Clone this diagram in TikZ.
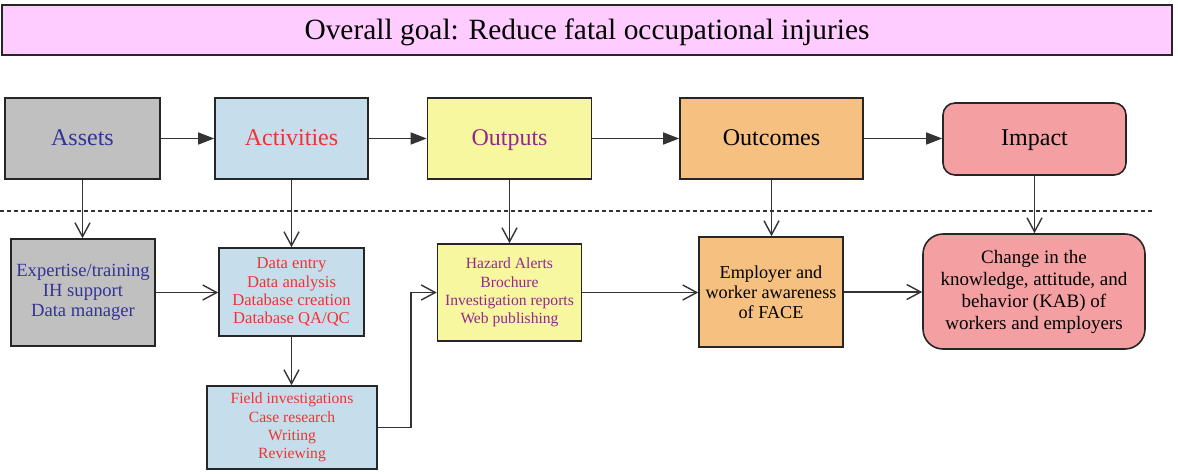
\documentclass[tikz,border=0pt]{standalone}
\usepackage{fontspec}
\setmainfont{Liberation Serif}
\usetikzlibrary{arrows.meta}
\definecolor{goalpink}{RGB}{255,204,255}
\definecolor{assetgray}{RGB}{192,192,192}
\definecolor{actblue}{RGB}{198,222,236}
\definecolor{outyellow}{RGB}{247,247,160}
\definecolor{outcorange}{RGB}{246,193,128}
\definecolor{imppink}{RGB}{244,160,162}
\definecolor{navytext}{RGB}{51,51,153}
\definecolor{redtext}{RGB}{240,50,50}
\definecolor{purpletext}{RGB}{150,40,140}
\begin{document}
\begin{tikzpicture} [x=0.5pt, y=-0.5pt,
	box/.style = {draw = black!85, line width = 0.8pt, inner sep = 0pt, align = center},
	headbox/.style = {box, minimum height = 40.5pt, text height = 8.5pt, text depth = 2pt, font = \fontsize{12}{14}\selectfont},
	toparrow/.style = {-{Triangle[length=8pt, width=6pt]}, line width = 0.7pt, black!80},
	lowarrow/.style = {-{Straight Barb[length=7pt, width=7.5pt]}, line width = 0.7pt, black!80}]
	\useasboundingbox (0,0) rectangle (1178,473);
	\node [box, fill = goalpink, minimum width = 585pt, minimum height = 25pt, text height = 10.5pt, text depth = 1.5pt, font = \fontsize{14.7}{17}\selectfont] (goal) at (587,30) {Overall goal: Reduce fatal occupational injuries};
	\node [headbox, fill = assetgray, minimum width = 77.5pt, text = navytext] (assets) at (82.5,138.5) {Assets};
	\node [headbox, fill = actblue, minimum width = 76.5pt, text = redtext] (activities) at (291.5,138.5) {Activities};
	\node [headbox, fill = outyellow, minimum width = 82pt, text = purpletext] (outputs) at (509.5,138.5) {Outputs};
	\node [headbox, fill = outcorange, minimum width = 91.5pt] (outcomes) at (771.5,138.5) {Outcomes};
	\node [headbox, fill = imppink, minimum width = 91.5pt, minimum height = 36pt, rounded corners = 6pt] (impact) at (1034.5,139) {Impact};
	\draw [dash pattern = on 2pt off 1.5pt, line width = 0.6pt, black!80] (0,211) -- (1152,211);
	\node [box, fill = assetgray, minimum width = 72pt, minimum height = 53.5pt, text = navytext, font = \fontsize{9.3}{10}\selectfont] (assetlist) at (83,292.5) {Expertise/training\\IH support\\Data manager};
	\node [box, fill = actblue, minimum width = 72.5pt, minimum height = 44pt, text = redtext, font = \fontsize{8.3}{9.1}\selectfont] (datatasks) at (291.5,292) {Data entry\\Data analysis\\Database creation\\Database QA/QC};
	\node [box, fill = actblue, minimum width = 85pt, minimum height = 41.5pt, text = redtext, font = \fontsize{7.8}{9.2}\selectfont] (fieldtasks) at (292,427.5) {Field investigations\\Case research\\Writing\\Reviewing};
	\node [box, fill = outyellow, minimum width = 72pt, minimum height = 48.5pt, text = purpletext, font = \fontsize{7.8}{9.1}\selectfont] (products) at (509.5,292.5) {Hazard Alerts\\Brochure\\Investigation reports\\Web publishing};
	\node [box, fill = outcorange, minimum width = 72pt, minimum height = 55pt, font = \fontsize{9.1}{10}\selectfont] (awareness) at (771,292) {Employer and\\worker awareness\\of FACE};
	\node [box, fill = imppink, minimum width = 111pt, minimum height = 57.5pt, rounded corners = 10pt, font = \fontsize{9.5}{11}\selectfont] (kab) at (1034,291.5) {Change in the\\knowledge, attitude, and\\behavior (KAB) of\\workers and employers};
	\draw [toparrow] (assets.east) -- (activities.west);
	\draw [toparrow] (activities.east) -- (outputs.west);
	\draw [toparrow] (outputs.east) -- (outcomes.west);
	\draw [toparrow] (outcomes.east) -- (outcomes.east -| impact.west);
	\draw [lowarrow] (assets.south) -- (assets.south |- assetlist.north);
	\draw [lowarrow] (activities.south) -- (activities.south |- datatasks.north);
	\draw [lowarrow] (outputs.south) -- (outputs.south |- products.north);
	\draw [lowarrow] (outcomes.south) -- (outcomes.south |- awareness.north);
	\draw [lowarrow] (impact.south) -- (impact.south |- kab.north);
	\draw [lowarrow] (assetlist.east) -- (assetlist.east -| datatasks.west);
	\draw [lowarrow] (datatasks.south) -- (datatasks.south |- fieldtasks.north);
	\draw [lowarrow] (fieldtasks.east) -- ++(33,0) |- (products.west);
	\draw [lowarrow] (products.east) -- (products.east -| awareness.west);
	\draw [lowarrow] (awareness.east) -- (awareness.east -| kab.west);
\end{tikzpicture}
\end{document}
